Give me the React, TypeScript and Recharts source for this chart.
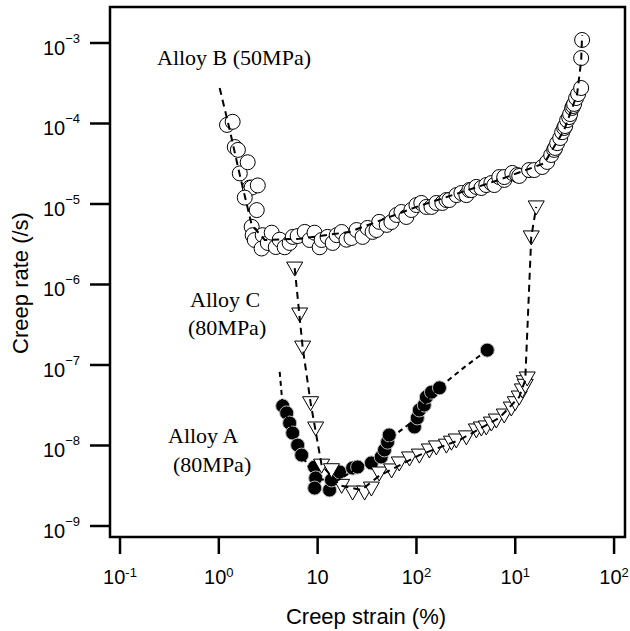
import { ScatterChart, Scatter, XAxis, YAxis, ReferenceArea } from 'recharts'

// creep strain (%) vs creep rate (/s)
const alloyB = [
  [1.21, 9.6e-5], [1.38, 1.05e-4], [1.45, 5.1e-5], [1.56, 4.7e-5], [1.63, 2.4e-5], [1.96, 3.3e-5],
  [2.06, 1.6e-5], [2.15, 1.6e-5], [2.48, 1.7e-5], [1.83, 1.2e-5], [2.42, 8.4e-6], [2.15, 5.2e-6],
  [2.2, 4.1e-6], [2.31, 3.57e-6], [2.78, 4.1e-6], [2.71, 2.8e-6], [3.13, 3.28e-6], [3.43, 4.4e-6],
  [3.77, 2.92e-6], [4.13, 3.6e-6], [4.64, 2.9e-6], [5.21, 3.28e-6], [5.6, 3.9e-6], [6.28, 4.0e-6],
  [7.4, 4.5e-6], [8.3, 3.57e-6], [9.3, 4.4e-6], [10.5, 2.9e-6], [10.97, 3.57e-6], [12.6, 3.9e-6],
  [14.2, 3.28e-6], [15.6, 4.1e-6], [17.5, 4.49e-6], [19.6, 3.6e-6], [22.0, 3.78e-6], [24.8, 4.75e-6],
  [28.5, 3.9e-6], [32, 5.04e-6], [36, 4.5e-6], [39.4, 4.75e-6], [42, 6.0e-6], [50, 5.5e-6],
  [55.8, 5.97e-6], [63, 7.3e-6], [70.5, 7.96e-6], [79, 6.9e-6], [88.9, 8.42e-6], [100, 9.7e-6],
  [112, 1.03e-5], [126, 9.2e-6], [142, 9.2e-6], [159, 1.03e-5], [183, 1.03e-5], [201, 1.12e-5],
  [215, 1.12e-5], [254, 1.29e-5], [285, 1.37e-5], [320, 1.29e-5], [343, 1.49e-5], [360, 1.49e-5],
  [404, 1.63e-5], [454, 1.58e-5], [509, 1.72e-5], [573, 1.82e-5], [614, 1.72e-5], [689, 2.16e-5],
  [774, 1.99e-5], [774, 2.16e-5], [933, 2.43e-5], [1047, 2.29e-5], [1097, 2.23e-5], [1380, 2.64e-5],
  [1556, 2.64e-5], [1874, 2.88e-5], [2104, 3.33e-5], [2312, 4.06e-5], [2478, 4.7e-5], [2535, 4.97e-5],
  [2656, 5.7e-5], [2850, 6.6e-5], [2985, 7.8e-5], [3126, 8.8e-5], [3200, 9.3e-5], [3350, 1.1e-4],
  [3508, 1.2e-4], [3595, 1.31e-4], [3767, 1.56e-4], [3855, 1.65e-4], [3945, 1.75e-4], [4130, 2.07e-4],
  [4325, 2.32e-4], [4645, 2.76e-4], [4645, 6.5e-4], [4750, 1.09e-3],
]
const alloyBFit = [
  [1.02, 2.76e-4], [1.29, 8.3e-5], [1.63, 2.3e-5], [2.15, 5.5e-6], [2.92, 3.57e-6], [6.6, 3.7e-6],
  [21, 4.5e-6], [100, 9.2e-6], [689, 2e-5], [1963, 3.2e-5], [3126, 8.3e-5], [4223, 2.3e-4],
  [4645, 6e-4], [4750, 1.26e-3],
]

const alloyC = [
  [5.86, 1.6e-6], [6.58, 4.3e-7], [7.05, 1.67e-7], [8.49, 3.4e-8], [9.55, 1.65e-8], [10.97, 5.7e-9],
  [13.8, 5.0e-9], [17.5, 3.2e-9], [22.6, 2.64e-9], [29.9, 2.64e-9], [35, 2.96e-9], [42, 4.55e-9],
  [56, 4.97e-9], [67, 6.07e-9], [85, 7.0e-9], [107, 7.6e-9], [135, 8.8e-9], [159, 9.6e-9],
  [201, 1.01e-8], [226, 1.1e-8], [253, 1.17e-8], [320, 1.28e-8], [404, 1.56e-8], [454, 1.65e-8],
  [509, 1.7e-8], [573, 1.9e-8], [643, 2.07e-8], [774, 2.39e-8], [912, 2.92e-8], [1000, 3.4e-8],
  [1097, 4.0e-8], [1178, 4.9e-8], [1230, 6.2e-8], [1262, 5.6e-8], [1322, 6.9e-8], [1452, 3.9e-6],
  [1630, 9.2e-6],
]
const alloyCFit = [
  [5.86, 1.6e-6], [7.05, 1.67e-7], [8.49, 3.4e-8], [10.97, 5.7e-9], [16.7, 3.2e-9], [27.8, 2.8e-9],
  [42, 4.2e-9], [107, 7.6e-9], [272, 1.17e-8], [689, 2.2e-8], [1097, 4.0e-8], [1262, 6.5e-8],
  [1452, 3.9e-6], [1630, 9.2e-6],
]

const alloyA = [
  [4.43, 3.1e-8], [4.86, 2.54e-8], [5.21, 1.9e-8], [5.59, 1.43e-8], [6.28, 1.01e-8], [6.89, 7.6e-9],
  [9.33, 5.4e-9], [9.55, 3.95e-9], [9.33, 2.96e-9], [13.2, 2.8e-9], [13.8, 3.73e-9], [16.7, 4.69e-9],
  [22.6, 5.25e-9], [25.4, 5.4e-9], [35, 6.07e-9], [44, 7.2e-9], [47.5, 8.8e-9], [51, 1.1e-8],
  [53, 1.35e-8], [95.5, 1.7e-8], [102, 2.2e-8], [107, 2.76e-8], [120, 3.18e-8], [126, 4.0e-8],
  [142, 4.6e-8], [171, 5.2e-8], [521, 1.53e-7],
]
const alloyAFit = [
  [4.13, 8.2e-8], [4.43, 3.1e-8], [5.59, 1.43e-8], [6.89, 7.6e-9], [9.55, 3.95e-9], [14.9, 3.5e-9],
  [26.5, 5.4e-9], [44, 7.6e-9], [60, 1.35e-8], [95.5, 2.07e-8], [135, 4.0e-8], [183, 5.65e-8],
  [306, 9.4e-8], [521, 1.53e-7],
]

const strainTicks = [0.1, 1, 10, 100, 1000, 10000]
const strainTickExps = ['-1', '0', '', '2', '1', '2']
const rateTicks = [1e-9, 1e-8, 1e-7, 1e-6, 1e-5, 1e-4, 1e-3]
const rateTickExps = ['\u22129', '\u22128', '\u22127', '\u22126', '\u22125', '\u22124', '\u22123']

const strainDomain = [0.0792, 12900]
const rateDomain = [7.3e-10, 2.8e-3]

const sans = 'Liberation Sans, Arial, sans-serif'
const serif = 'Liberation Serif, Times New Roman, serif'

const toPoints = (rows: number[][]) => rows.map(([x, y]) => ({ x, y }))

const OpenCircle = (props: any) => (
  <circle cx={props.cx} cy={props.cy} r={7.5} fill="#fff" stroke="#000" strokeWidth={1} />
)
const FilledCircle = (props: any) => (
  <circle cx={props.cx} cy={props.cy} r={7} fill="#000" stroke="#bbb" strokeWidth={1} />
)
const DownTriangle = (props: any) => {
  const { cx, cy } = props
  return (
    <path
      d={`M${cx - 8},${cy - 6} L${cx + 8},${cy - 6} L${cx},${cy + 8} Z`}
      fill="#fff"
      stroke="#000"
      strokeWidth={1}
    />
  )
}
const NoDot = () => <g />

const StrainTick = ({ x, y, payload }: any) => {
  const exp = strainTickExps[strainTicks.indexOf(payload.value)]
  return (
    <text x={x} y={y + 30} textAnchor="middle" fontFamily={sans} fontSize={20} fill="#000">
      <tspan>10</tspan>
      {exp ? <tspan dy={-7} fontSize={13}>{exp}</tspan> : null}
    </text>
  )
}

const RateTick = ({ x, y, payload }: any) => {
  const exp = rateTickExps[rateTicks.indexOf(payload.value)]
  return (
    <text x={x - 10} y={y + 12} textAnchor="end" fontFamily={sans} fontSize={20} fill="#000">
      <tspan>10</tspan>
      <tspan dy={-12} fontSize={13}>{exp}</tspan>
    </text>
  )
}

const dashed = { stroke: '#000', strokeWidth: 2, strokeDasharray: '7 5' }

export default function App() {
  return (
    <div style={{ position: 'absolute', left: 0, top: 0, width: 630, height: 631, background: '#fff' }}>
      <ScatterChart width={630} height={631} margin={{ top: 7, right: 5, bottom: 0, left: 0 }}>
        <XAxis
          type="number"
          dataKey="x"
          scale="log"
          domain={strainDomain}
          allowDataOverflow
          ticks={strainTicks}
          interval={0}
          tick={<StrainTick />}
          tickSize={17}
          tickMargin={0}
          stroke="#000"
          tickLine={{ stroke: '#000', strokeWidth: 2.5 }}
          axisLine={false}
          height={94}
        />
        <YAxis
          type="number"
          dataKey="y"
          scale="log"
          domain={rateDomain}
          allowDataOverflow
          ticks={rateTicks}
          interval={0}
          tick={<RateTick />}
          tickSize={20}
          tickMargin={0}
          stroke="#000"
          tickLine={{ stroke: '#000', strokeWidth: 2.5 }}
          axisLine={false}
          width={110}
        />
        <ReferenceArea
          x1={strainDomain[0]}
          x2={strainDomain[1]}
          y1={rateDomain[0]}
          y2={rateDomain[1]}
          fill="none"
          stroke="#000"
          strokeWidth={2.5}
          ifOverflow="visible"
        />
        <Scatter data={toPoints(alloyB)} shape={OpenCircle} isAnimationActive={false} />
        <Scatter data={toPoints(alloyA)} shape={FilledCircle} isAnimationActive={false} />
        <Scatter data={toPoints(alloyC)} shape={DownTriangle} isAnimationActive={false} />
        <Scatter data={toPoints(alloyBFit)} shape={NoDot} line={dashed} isAnimationActive={false} />
        <Scatter data={toPoints(alloyCFit)} shape={NoDot} line={dashed} isAnimationActive={false} />
        <Scatter
          data={toPoints(alloyAFit)}
          shape={NoDot}
          line={{ ...dashed, strokeDasharray: '5 4' }}
          isAnimationActive={false}
        />
        <text x={157} y={65} fontFamily={serif} fontSize={22} fill="#000">Alloy B (50MPa)</text>
        <text x={190} y={307} fontFamily={serif} fontSize={22} fill="#000">Alloy C</text>
        <text x={188} y={335} fontFamily={serif} fontSize={22} fill="#000">(80MPa)</text>
        <text x={168} y={443} fontFamily={serif} fontSize={22} fill="#000">Alloy A</text>
        <text x={173} y={472} fontFamily={serif} fontSize={22} fill="#000">(80MPa)</text>
        <text x={366} y={624} textAnchor="middle" fontFamily={sans} fontSize={22} fill="#000">
          Creep strain (%)
        </text>
        <text
          x={28}
          y={283}
          textAnchor="middle"
          transform="rotate(-90, 28, 283)"
          fontFamily={sans}
          fontSize={22}
          fill="#000"
        >
          Creep rate (/s)
        </text>
      </ScatterChart>
    </div>
  )
}
